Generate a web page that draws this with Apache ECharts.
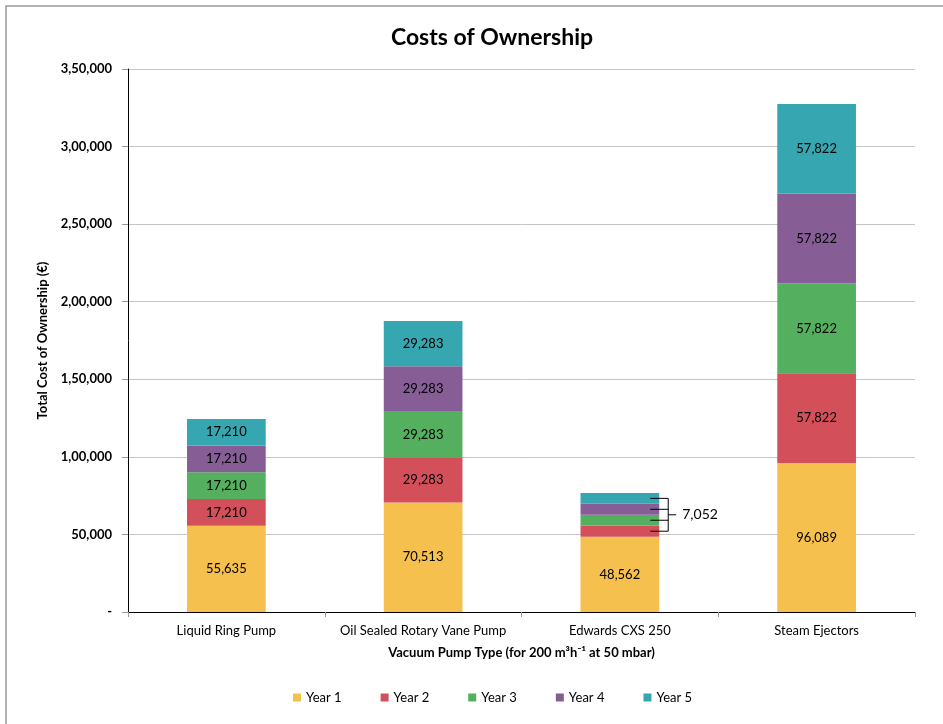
<!DOCTYPE html>
<html><head><meta charset="utf-8">
<script src="https://cdn.jsdelivr.net/npm/echarts@6/dist/echarts.min.js"></script>
<style>html,body{margin:0;padding:0;background:#fff}#c{width:943px;height:724px}</style>
</head><body><div id="c"></div>
<script>
const categories = ['Liquid Ring Pump', 'Oil Sealed Rotary Vane Pump', 'Edwards CXS 250', 'Steam Ejectors'];
const seriesNames = ['Year 1', 'Year 2', 'Year 3', 'Year 4', 'Year 5'];
const year1 = [55635, 70513, 48562, 96089];
const year2 = [17210, 29283, 7052, 57822];
const year3 = [17210, 29283, 7052, 57822];
const year4 = [17210, 29283, 7052, 57822];
const year5 = [17210, 29283, 7052, 57822];
const colors = ['#F5C04D', '#D3505A', '#54B05F', '#875D96', '#36A6B0'];
const yTicks = [0, 50000, 100000, 150000, 200000, 250000, 300000, 350000];
const bracketCategory = 'Edwards CXS 250';

const FONT = 'Lato';
function indian(v) {
  if (v === 0) return '-';
  const s = String(Math.round(v));
  if (s.length <= 3) return s;
  let last3 = s.slice(-3), rest = s.slice(0, -3);
  rest = rest.replace(/\B(?=(\d{2})+(?!\d))/g, ',');
  return rest + ',' + last3;
}
const allYears = [year1, year2, year3, year4, year5];
const bIdx = categories.indexOf(bracketCategory);

const series = allYears.map((arr, si) => ({
  name: seriesNames[si],
  type: 'bar',
  stack: 'total',
  barWidth: '40%',
  itemStyle: { color: colors[si] },
  label: { show: true, position: 'inside', color: '#000', fontSize: 13, fontFamily: FONT,
           formatter: p => indian(p.value) },
  data: arr.map((v, ci) => (ci === bIdx && si > 0) ? { value: v, label: { show: false } } : v)
}));

const chart = echarts.init(document.getElementById('c'), null, { renderer: 'canvas' });
chart.setOption({
  animation: false,
  backgroundColor: '#fff',
  textStyle: { fontFamily: FONT },
  title: { text: 'Costs of Ownership', left: 487, top: 21, textAlign: 'center',
           textStyle: { fontSize: 23, fontWeight: 'bold', color: '#000', fontFamily: FONT } },
  legend: { bottom: 15, left: 288, data: seriesNames, icon: 'rect', itemWidth: 8, itemHeight: 8,
            itemGap: 39, textStyle: { fontSize: 13, color: '#000', fontFamily: FONT } },
  grid: { left: 128, right: 28, top: 69, bottom: 112, containLabel: false },
  xAxis: {
    type: 'category', data: categories,
    name: 'Vacuum Pump Type (for 200 m\u00B3h\u207B\u00B9 at 50 mbar)', nameLocation: 'middle', nameGap: 34,
    nameTextStyle: { fontSize: 13, fontWeight: 'bold', color: '#000', fontFamily: FONT },
    axisLine: { lineStyle: { color: '#000', width: 1 } },
    axisTick: { show: true, length: 5, lineStyle: { color: '#999' } },
    axisLabel: { color: '#000', fontSize: 13, margin: 12, interval: 0, fontFamily: FONT }
  },
  yAxis: {
    type: 'value', min: 0, max: 350000, interval: 50000,
    name: 'Total Cost of Ownership (\u20AC)', nameLocation: 'middle', nameGap: 72,
    nameTextStyle: { fontSize: 13, fontWeight: 'bold', color: '#000', fontFamily: FONT },
    axisLine: { show: true, lineStyle: { color: '#000', width: 1 } },
    axisTick: { show: true, length: 6, lineStyle: { color: '#999' } },
    axisLabel: { color: '#000', fontSize: 13, fontWeight: 'bold', margin: 16, fontFamily: FONT,
                 formatter: v => indian(v) },
    splitLine: { lineStyle: { color: '#c4c4c4', width: 1 } }
  },
  series: series
});

// bracket annotation for the Edwards bar, positioned via the chart's own scales
function drawBracket() {
  const c0 = chart.convertToPixel({ gridIndex: 0 }, [0, 0]);
  const c1 = chart.convertToPixel({ gridIndex: 0 }, [1, 0]);
  const band = c1[0] - c0[0];
  const cx = chart.convertToPixel({ gridIndex: 0 }, [bIdx, 0])[0];
  const right = cx + band * 0.4 / 2;
  let cum = year1[bIdx];
  const mids = [];
  for (let si = 1; si < allYears.length; si++) {
    const v = allYears[si][bIdx];
    mids.push(chart.convertToPixel({ gridIndex: 0 }, [bIdx, cum + v / 2])[1]);
    cum += v;
  }
  const vx = right + 9;
  const els = mids.map(y => ({ type: 'line', shape: { x1: right - 9, y1: y, x2: vx, y2: y },
                               style: { stroke: '#000', lineWidth: 1 }, z: 100 }));
  const top = Math.min(...mids), bot = Math.max(...mids), mid = (top + bot) / 2;
  els.push({ type: 'line', shape: { x1: vx, y1: top, x2: vx, y2: bot }, style: { stroke: '#000', lineWidth: 1 }, z: 100 });
  els.push({ type: 'line', shape: { x1: vx, y1: mid, x2: vx + 8, y2: mid }, style: { stroke: '#000', lineWidth: 1 }, z: 100 });
  els.push({ type: 'text', x: vx + 14, y: mid, style: { text: indian(year2[bIdx]), fill: '#000', fontSize: 14,
             fontFamily: FONT, verticalAlign: 'middle', align: 'left' }, z: 100 });
  els.push({ type: 'rect', shape: { x: 6, y: 6, width: 1200, height: 1200 },
             style: { fill: 'none', stroke: '#9a9a9a', lineWidth: 1.5 }, z: 0, silent: true });
  chart.setOption({ graphic: els });
}
drawBracket();
</script></body></html>
